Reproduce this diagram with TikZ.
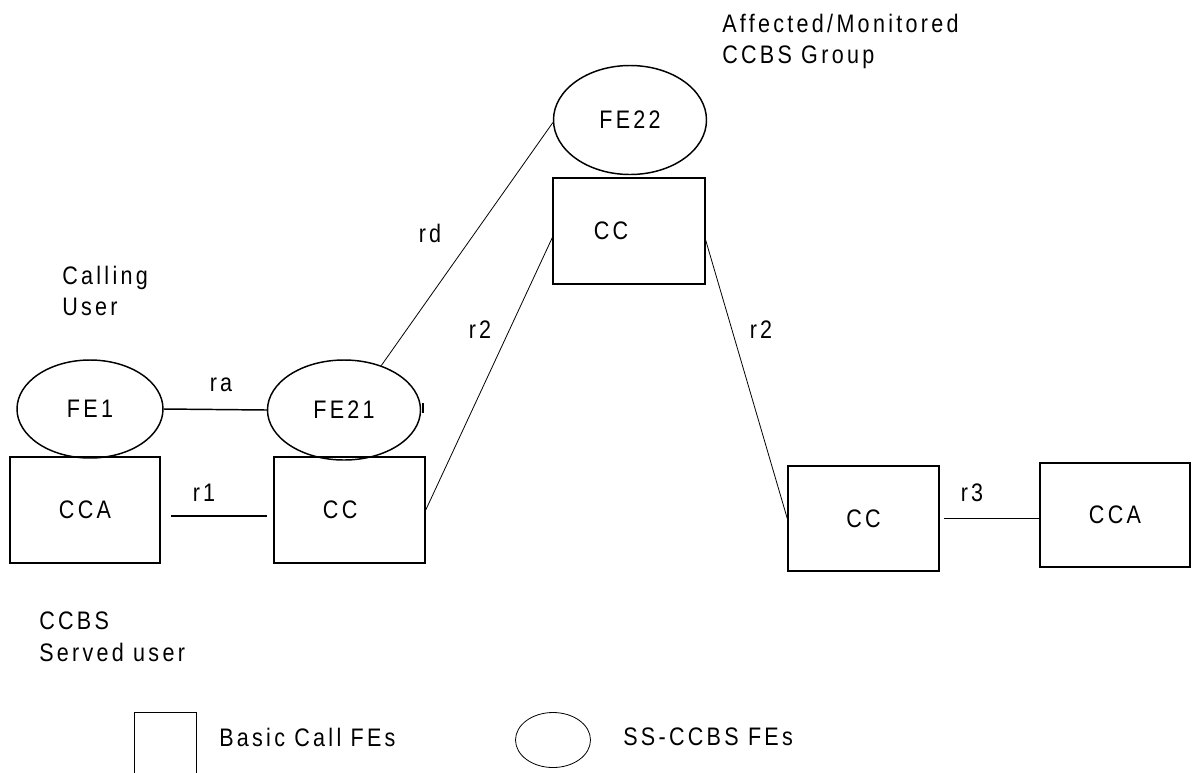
\documentclass[tikz,border=0pt]{standalone}
\usepackage{fontspec}
\setmainfont{Liberation Sans}[FakeStretch=0.85,LetterSpace=13]
\usetikzlibrary{shapes.geometric}
\tikzset{
  fe/.style={ellipse,draw,line width=1.1pt,inner sep=0pt},
  bc/.style={rectangle,draw,line width=1.1pt,inner sep=0pt},
  link/.style={line width=0.6pt},
  hlink/.style={line width=1.1pt},
  lbl/.style={inner sep=0pt},
  txt/.style={inner sep=0pt,align=left,anchor=north west},
}
\begin{document}
\begin{tikzpicture}[x=0.75pt,y=-0.75pt,font=\fontsize{19}{23.5}\selectfont]
\useasboundingbox[fill=white] (0,0) rectangle (1194,772);
% shapes
\node[fe,minimum width=109.5pt,minimum height=73.5pt] (fe1) at (90,409) {FE1};
\node[fe,minimum width=114.75pt,minimum height=75pt] (fe21) at (344,410) {FE21};
\node[fe,minimum width=114.75pt,minimum height=81.75pt] (fe22) at (630,120) {FE22};
\node[bc,minimum width=112.5pt,minimum height=79.5pt] (ccal) at (85,510) {CCA};
\node[bc,minimum width=113.25pt,minimum height=79.5pt,label={[lbl,xshift=-7pt]center:CC}] (ccl) at (349.5,510) {};
\node[bc,minimum width=114pt,minimum height=79.5pt,label={[lbl,xshift=-13.5pt]center:CC}] (cct) at (629,231) {};
\node[bc,minimum width=113.25pt,minimum height=78.75pt] (ccr) at (863.5,518.5) {CC};
\node[bc,minimum width=112.5pt,minimum height=78pt] (ccar) at (1115,515) {CCA};
% texts
\node[txt] (aff) at (722,14) {Affected/Monitored\\CCBS Group};
\node[txt] (call) at (62,266) {Calling\\User};
\node[txt] (served) at (39,612) {CCBS\\Served user};
% connectors
\draw[hlink] (fe1.east) -- (fe21.west);
\draw[hlink] ([xshift=8pt,yshift=-4.5pt]ccal.east) -- ([xshift=-5pt,yshift=-4.5pt]ccl.west);
\draw[hlink] ([xshift=3.5pt]ccr.east) -- (ccr.east -| ccar.west);
\draw[link] (fe21.50) -- ([yshift=-2pt]fe22.west);
\draw[link] (ccl.east) -- ([yshift=-5pt]cct.west);
\draw[link] ([yshift=-7pt]cct.east) -- (ccr.west);
\draw[line width=1.5pt] ([xshift=1.5pt,yshift=5pt]fe21.east) -- ([xshift=1.5pt,yshift=-2pt]fe21.east);
% labels
\node[lbl] (lra) at (221,385) {ra};
\node[lbl] (lr1) at (204,493) {r1};
\node[lbl] (lr3) at (972,493) {r3};
\node[lbl] (lrd) at (430,233) {rd};
\node[lbl] (lr2a) at (480,330) {r2};
\node[lbl] (lr2b) at (761,330) {r2};
% legend
\node[rectangle,draw,line width=0.6pt,minimum width=46.5pt,minimum height=54pt,inner sep=0pt] (legbox) at (165,748) {};
\node[lbl,anchor=west] (legbc) at (219,737) {Basic Call FEs};
\node[ellipse,draw,line width=0.6pt,minimum width=56.25pt,minimum height=41.25pt,inner sep=0pt] (legfe) at (553,740) {};
\node[lbl,anchor=west] (legss) at (623,737) {SS-CCBS FEs};
\end{tikzpicture}
\end{document}
